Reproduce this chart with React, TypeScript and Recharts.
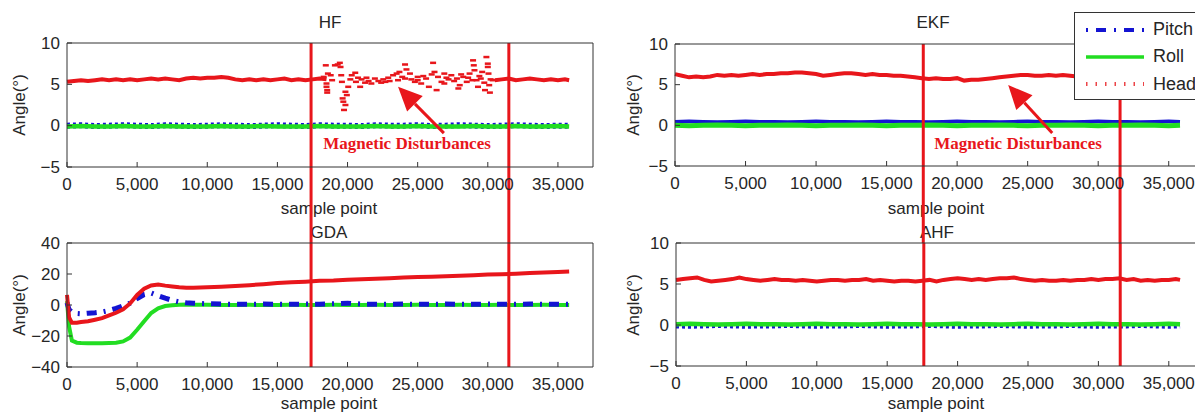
import React from 'react';
import { ComposedChart, Line, Scatter, XAxis, YAxis, ReferenceLine, Legend } from 'recharts';

const FONT = '"Liberation Sans", Arial, sans-serif';
const AXIS = '#333333';
const TXT = '#262626';
const RED = '#e8161b';
const GREEN = '#22dd22';
const BLUE = '#1414d2';

const X_TICKS = [0, 5000, 10000, 15000, 20000, 25000, 30000, 35000];
const X_DOMAIN: [number, number] = [0, 37500];
const Y_TICKS_SMALL = [-5, 0, 5, 10];
const Y_TICKS_GDA = [-40, -20, 0, 20, 40];
const SERIES_NAMES = ['Pitch', 'Roll', 'Head'];

// sample points for the heading traces
const HEAD_X = [
  0, 500, 1000, 1500, 2000, 2500, 3000, 3500, 4000, 4500,
  5000, 5500, 6000, 6500, 7000, 7500, 8000, 8500, 9000, 9500,
  10000, 10500, 11000, 11500, 12000, 12500, 13000, 13500, 14000, 14500,
  15000, 15500, 16000, 16500, 17000, 17500, 18000, 18500, 19000, 19500,
  20000, 20500, 21000, 21500, 22000, 22500, 23000, 23500, 24000, 24500,
  25000, 25500, 26000, 26500, 27000, 27500, 28000, 28500, 29000, 29500,
  30000, 30500, 31000, 31500, 32000, 32500, 33000, 33500, 34000, 34500,
  35000, 35500, 35800,
];

// sample points for pitch / roll
const PR_X = [
  0, 1000, 2000, 3000, 4000, 5000, 6000, 7000, 8000, 9000,
  10000, 11000, 12000, 13000, 14000, 15000, 16000, 17000, 18000, 19000,
  20000, 21000, 22000, 23000, 24000, 25000, 26000, 27000, 28000, 29000,
  30000, 31000, 32000, 33000, 34000, 35000, 35800,
];

const GDA_X = [
  0, 150, 350, 700, 1000, 1500, 2000, 2500, 3000, 3500,
  4000, 4500, 5000, 5500, 6000, 6500, 7000, 7500, 8000, 8500,
  9000, 10000, 11000, 12000, 13000, 14000, 15000, 16000, 17000, 18000,
  19000, 20000, 21000, 22000, 23000, 24000, 25000, 26000, 27000, 28000,
  29000, 30000, 31000, 32000, 33000, 34000, 35000, 35800,
];

const HF_HEAD = [
  5.3, 5.4, 5.5, 5.4, 5.5, 5.6, 5.5, 5.6, 5.5, 5.6,
  5.5, 5.6, 5.7, 5.6, 5.7, 5.6, 5.5, 5.7, 5.8, 5.7,
  5.8, 5.8, 5.9, 5.8, 5.6, 5.5, 5.6, 5.5, 5.6, 5.5,
  5.6, 5.7, 5.5, 5.6, 5.5, 5.6, 5.7, 5.6, null, null,
  null, null, null, null, null, null, null, null, null, null,
  null, null, null, null, null, null, null, null, null, null,
  null, 5.5, 5.6, 5.7, 5.5, 5.6, 5.7, 5.6, 5.5, 5.6,
  5.5, 5.6, 5.5,
];
const HF_PITCH = [
  0.0, 0.05, -0.05, 0.0, 0.05, 0.0, -0.05, 0.05, 0.0, -0.05,
  0.0, 0.05, 0.0, -0.05, 0.0, 0.05, 0.0, -0.05, 0.05, 0.0,
  0.0, -0.05, 0.05, 0.0, 0.0, 0.05, -0.05, 0.0, 0.05, 0.0,
  -0.05, 0.0, 0.05, 0.0, -0.05, 0.0, 0.0,
];
const HF_ROLL = [
  -0.1, -0.05, -0.1, -0.1, -0.05, -0.1, -0.1, -0.05, -0.1, -0.1,
  -0.1, -0.05, -0.1, -0.1, -0.05, -0.1, -0.1, -0.1, -0.05, -0.1,
  -0.1, -0.1, -0.05, -0.1, -0.1, -0.05, -0.1, -0.1, -0.1, -0.05,
  -0.1, -0.1, -0.05, -0.1, -0.1, -0.05, -0.1,
];
// heading samples scattered during the magnetic disturbance (HF)
const HF_DIST_X = [
  18300, 18450, 18500, 18500, 18550, 18550, 18600, 18800, 18900, 19100,
  19300, 19450, 19500, 19550, 19600, 19650, 19700, 19750, 19850, 19850,
  19950, 20050, 20200, 20300, 20550, 20600, 20750, 20900, 21000, 21250,
  21350, 21500, 21700, 21950, 22200, 22400, 22550, 22700, 22900, 23000,
  23250, 23500, 23600, 23700, 23900, 24100, 24100, 24200, 24450, 24550,
  24800, 25000, 25000, 25250, 25400, 25600, 25800, 26000, 26100, 26200,
  26350, 26450, 26700, 26900, 26900, 27050, 27200, 27400, 27600, 27800,
  27900, 28000, 28100, 28250, 28500, 28600, 28700, 28900, 28950, 29000,
  29050, 29200, 29300, 29400, 29500, 29600, 29750, 29800, 29900, 30000,
  30000, 30050, 30100, 30150, 30200, 30350,
];
const HF_DIST_Y = [
  5.9, 7.3, 5.1, 4.7, 4.3, 4.0, 6.3, 6.1, 5.5, 7.3,
  7.4, 7.6, 7.1, 6.1, 5.3, 3.3, 2.9, 1.9, 2.5, 4.1,
  3.7, 4.7, 5.6, 6.1, 6.4, 5.3, 5.8, 4.7, 5.6, 5.2,
  5.8, 5.4, 5.1, 5.7, 5.4, 5.2, 5.6, 5.3, 5.8, 5.4,
  6.1, 6.3, 5.5, 6.5, 5.9, 7.4, 5.7, 6.8, 6.3, 5.6,
  5.3, 5.9, 5.5, 5.1, 6.0, 5.7, 4.7, 6.2, 7.6, 6.5,
  4.3, 5.9, 5.3, 6.3, 5.1, 5.8, 5.6, 6.1, 5.4, 5.7,
  4.5, 4.9, 6.2, 5.9, 5.3, 5.8, 6.3, 5.5, 7.9, 7.3,
  6.7, 5.5, 4.7, 6.0, 5.7, 6.5, 5.2, 4.3, 8.3, 7.5,
  7.1, 6.3, 4.9, 4.0, 5.6, 5.5,
];

const EKF_HEAD = [
  6.3, 6.1, 5.9, 6.0, 5.9, 6.0, 6.2, 6.1, 6.2, 6.1,
  6.2, 6.3, 6.2, 6.3, 6.3, 6.4, 6.4, 6.5, 6.5, 6.4,
  6.3, 6.1, 6.2, 6.3, 6.4, 6.4, 6.3, 6.2, 6.3, 6.2,
  6.2, 6.1, 6.1, 6.0, 5.9, 5.8, 5.7, 5.8, 5.7, 5.7,
  5.8, 5.5, 5.6, 5.6, 5.7, 5.8, 5.9, 6.0, 6.1, 6.2,
  6.2, 6.1, 6.1, 6.2, 6.1, 6.2, 6.1, 6.0, 6.1, 6.2,
  6.1, 6.0, 6.1, 6.0, 6.1, 6.2, 6.1, 6.0, 6.1, 6.1,
  6.0, 6.1, 6.0,
];
const EKF_PITCH = [
  0.45, 0.5, 0.45, 0.4, 0.45, 0.5, 0.45, 0.45, 0.4, 0.45,
  0.5, 0.45, 0.45, 0.4, 0.45, 0.5, 0.45, 0.45, 0.4, 0.45,
  0.5, 0.45, 0.45, 0.4, 0.45, 0.5, 0.45, 0.45, 0.4, 0.45,
  0.5, 0.45, 0.45, 0.4, 0.45, 0.5, 0.45,
];
const EKF_ROLL = [
  0.0, -0.05, 0.0, 0.05, 0.0, -0.05, 0.0, 0.0, 0.05, 0.0,
  -0.05, 0.0, 0.0, 0.05, 0.0, -0.05, 0.0, 0.0, 0.05, 0.0,
  -0.05, 0.0, 0.0, 0.05, 0.0, -0.05, 0.0, 0.0, 0.05, 0.0,
  -0.05, 0.0, 0.0, 0.05, 0.0, -0.05, 0.0,
];

const GDA_HEAD = [
  6.5, -8, -11.5, -11.5, -11, -10.5, -9.5, -8.5, -6.7, -5.0,
  -2.8, 1.0, 6.5, 10.5, 12.6, 13.2, 12.5, 12, 11.5, 11.2,
  11.2, 11.4, 11.8, 12.3, 12.8, 13.4, 14.2, 14.6, 15.0, 15.6,
  15.8, 16.3, 16.6, 17.0, 17.3, 17.7, 18.0, 18.3, 18.6, 18.9,
  19.2, 19.6, 19.9, 20.2, 20.6, 20.9, 21.3, 21.6,
];
const GDA_PITCH = [
  1.5, -3, -4.5, -5.5, -5.7, -5.3, -5, -4.5, -3.5, -2.2,
  -0.5, 1.2, 4.2, 6.8, 7.8, 6.0, 4.4, 3.0, 2.0, 1.4,
  1.1, 0.8, 0.6, 0.5, 0.5, 0.6, 0.5, 0.5, 0.6, 0.5,
  0.8, 1.2, 0.6, 0.5, 0.5, 0.6, 0.5, 0.5, 0.6, 0.5,
  0.5, 0.6, 0.5, 0.5, 0.6, 0.5, 0.5, 0.5,
];
const GDA_ROLL = [
  2.5, -14, -23, -24.3, -24.5, -24.6, -24.6, -24.6, -24.5, -24.3,
  -23.5, -21, -16, -10.5, -5.2, -2.2, -0.7, -0.2, 0.2, 0.3,
  0.2, 0.1, 0, 0, 0.1, 0, 0, 0.1, 0, 0,
  0.1, 0, 0, 0.1, 0, 0, 0.1, 0, 0, 0.1,
  0, 0, 0.1, 0, 0, 0.1, 0, 0,
];

const AHF_HEAD = [
  5.5, 5.6, 5.7, 5.8, 5.5, 5.3, 5.4, 5.5, 5.6, 5.8,
  5.6, 5.5, 5.4, 5.5, 5.6, 5.5, 5.5, 5.4, 5.5, 5.4,
  5.3, 5.4, 5.5, 5.5, 5.4, 5.5, 5.5, 5.6, 5.4, 5.5,
  5.4, 5.3, 5.4, 5.4, 5.3, 5.4, 5.5, 5.3, 5.5, 5.6,
  5.7, 5.6, 5.5, 5.6, 5.5, 5.6, 5.7, 5.7, 5.8, 5.6,
  5.5, 5.4, 5.5, 5.4, 5.4, 5.5, 5.4, 5.5, 5.5, 5.6,
  5.5, 5.6, 5.6, 5.7, 5.5, 5.6, 5.4, 5.5, 5.4, 5.5,
  5.5, 5.6, 5.5,
];
const AHF_PITCH = [
  -0.2, -0.25, -0.2, -0.15, -0.2, -0.25, -0.2, -0.2, -0.15, -0.2,
  -0.25, -0.2, -0.2, -0.15, -0.2, -0.25, -0.2, -0.2, -0.15, -0.2,
  -0.25, -0.2, -0.2, -0.15, -0.2, -0.25, -0.2, -0.2, -0.15, -0.2,
  -0.25, -0.2, -0.2, -0.15, -0.2, -0.25, -0.2,
];
const AHF_ROLL = [
  0.1, 0.15, 0.1, 0.05, 0.1, 0.15, 0.1, 0.1, 0.05, 0.1,
  0.15, 0.1, 0.1, 0.05, 0.1, 0.15, 0.1, 0.1, 0.05, 0.1,
  0.15, 0.1, 0.1, 0.05, 0.1, 0.15, 0.1, 0.1, 0.05, 0.1,
  0.15, 0.1, 0.1, 0.05, 0.1, 0.15, 0.1,
];

// disturbance markers (sample index) per column
const DIST_LEFT = [17400, 31500];
const DIST_RIGHT = [17600, 31550];
// arrow annotations, [tailX, tailY, headX, headY] in data units
const ARROW_HF = [26870, -0.9, 23600, 4.7];
const ARROW_EKF = [26740, -0.95, 23620, 4.96];

// layout
const PAD_L = 60;
const PAD_R = 20;
const PAD_T = 40;
const PAD_B = 40;
const TICK = 5;

const BOX = {
  hf: { x: 67, y: 43, w: 526, h: 124 },
  ekf: { x: 675, y: 44, w: 529, h: 122 },
  gda: { x: 67, y: 243, w: 526, h: 124 },
  ahf: { x: 676, y: 243, w: 528, h: 123 },
};

const tickStyle: React.CSSProperties = { fontFamily: FONT, fontSize: 17, fill: TXT };

const fmtX = (v: number) => v.toLocaleString('en-US');
const fmtY = (v: number) => (v < 0 ? '\u2212' + Math.abs(v) : String(v));

const rows = (xs: number[], ys: (number | null)[]) => xs.map((x, i) => ({ x, v: ys[i] }));
const points = (xs: number[], ys: number[]) => xs.map((x, i) => ({ x, y: ys[i] }));

type SeriesDef = {
  name: string;
  xs: number[];
  ys: (number | null)[];
  color: string;
  width: number;
  dash?: string;
};

type Box = { x: number; y: number; w: number; h: number };

const DashMark = (p: any) => (
  <rect x={p.cx - 3} y={p.cy - 1.25} width={6} height={2.5} fill={RED} />
);

const ArrowShape = (p: any) => {
  const { x1, y1, x2, y2 } = p;
  const dx = x2 - x1;
  const dy = y2 - y1;
  const len = Math.hypot(dx, dy) || 1;
  const ux = dx / len;
  const uy = dy / len;
  const hl = 24;
  const hw = 11;
  const bx = x2 - ux * hl;
  const by = y2 - uy * hl;
  return (
    <g>
      <line x1={x1} y1={y1} x2={bx} y2={by} stroke={RED} strokeWidth={3} />
      <polygon
        points={`${x2},${y2} ${bx - uy * hw},${by + ux * hw} ${bx + uy * hw},${by - ux * hw}`}
        fill={RED}
      />
    </g>
  );
};

function LegendBox() {
  return (
    <div
      style={{
        width: 150,
        height: 88,
        background: '#fff',
        border: `1px solid ${AXIS}`,
        boxSizing: 'border-box',
        paddingTop: 3,
        fontFamily: FONT,
        fontSize: 18,
        color: TXT,
      }}
    >
      {SERIES_NAMES.map((name) => (
        <div key={name} style={{ height: 27.3, display: 'flex', alignItems: 'center' }}>
          <svg width={78} height={20} style={{ flex: 'none' }}>
            {name === 'Pitch' && (
              <line x1={11} x2={69} y1={10} y2={10} stroke={BLUE} strokeWidth={4} strokeDasharray="2 8 10 8" />
            )}
            {name === 'Roll' && <line x1={11} x2={69} y1={10} y2={10} stroke={GREEN} strokeWidth={3.5} />}
            {name === 'Head' && (
              <line x1={11} x2={69} y1={10} y2={10} stroke={RED} strokeWidth={4} strokeDasharray="1.5 8" opacity={0.8} />
            )}
          </svg>
          <span>{name}</span>
        </div>
      ))}
    </div>
  );
}

type PanelProps = {
  box: Box;
  yDomain: [number, number];
  yTicks: number[];
  series: SeriesDef[];
  dist?: { x: number; y: number }[];
  refXs: number[];
  extBottom: number;
  arrow?: number[];
  legendAt?: { left: number; top: number };
};

function Panel({ box, yDomain, yTicks, series, dist, refXs, extBottom, arrow, legendAt }: PanelProps) {
  const W = PAD_L + box.w + PAD_R;
  const H = PAD_T + box.h + PAD_B;
  const pl = PAD_L;
  const pr = PAD_L + box.w;
  const pt = PAD_T;
  const pb = PAD_T + box.h;

  const bottomTick = (p: any) => (
    <g>
      <line x1={p.x} x2={p.x} y1={pb} y2={pb - TICK} stroke={AXIS} />
      <text x={p.x} y={pb + 17} textAnchor="middle" dominantBaseline="central" style={tickStyle}>
        {fmtX(p.payload.value)}
      </text>
    </g>
  );
  const topTick = (p: any) => <line x1={p.x} x2={p.x} y1={pt} y2={pt + TICK} stroke={AXIS} />;
  const leftTick = (p: any) => (
    <g>
      <line x1={pl} x2={pl + TICK} y1={p.y} y2={p.y} stroke={AXIS} />
      <text x={pl - 7} y={p.y} textAnchor="end" dominantBaseline="central" style={tickStyle}>
        {fmtY(p.payload.value)}
      </text>
    </g>
  );
  const rightTick = (p: any) => <line x1={pr - TICK} x2={pr} y1={p.y} y2={p.y} stroke={AXIS} />;

  const vShape = (p: any) => (
    <line
      x1={p.x1}
      x2={p.x2}
      y1={Math.min(p.y1, p.y2)}
      y2={Math.max(p.y1, p.y2) + extBottom}
      stroke={RED}
      strokeWidth={3}
    />
  );

  return (
    <div style={{ position: 'absolute', left: box.x - PAD_L, top: box.y - PAD_T }}>
      <ComposedChart width={W} height={H} margin={{ top: 0, right: 0, bottom: 0, left: 0 }}>
        <XAxis
          type="number"
          dataKey="x"
          domain={X_DOMAIN}
          ticks={X_TICKS}
          interval={0}
          height={PAD_B}
          axisLine={{ stroke: AXIS }}
          tickLine={false}
          tick={bottomTick}
        />
        <XAxis
          xAxisId="t"
          orientation="top"
          type="number"
          dataKey="x"
          domain={X_DOMAIN}
          ticks={X_TICKS}
          interval={0}
          height={PAD_T}
          axisLine={{ stroke: AXIS }}
          tickLine={false}
          tick={topTick}
        />
        <YAxis
          type="number"
          domain={yDomain}
          ticks={yTicks}
          interval={0}
          width={PAD_L}
          axisLine={{ stroke: AXIS }}
          tickLine={false}
          tick={leftTick}
        />
        <YAxis
          yAxisId="r"
          orientation="right"
          type="number"
          domain={yDomain}
          ticks={yTicks}
          interval={0}
          width={PAD_R}
          axisLine={{ stroke: AXIS }}
          tickLine={false}
          tick={rightTick}
        />
        {series.map((s) => (
          <Line
            key={s.name}
            name={s.name}
            data={rows(s.xs, s.ys)}
            dataKey="v"
            type="linear"
            stroke={s.color}
            strokeWidth={s.width}
            strokeDasharray={s.dash}
            dot={false}
            activeDot={false}
            connectNulls={false}
            isAnimationActive={false}
          />
        ))}
        {dist && <Scatter data={dist} dataKey="y" fill={RED} shape={DashMark} isAnimationActive={false} />}
        {arrow && (
          <ReferenceLine
            segment={[
              { x: arrow[0], y: arrow[1] },
              { x: arrow[2], y: arrow[3] },
            ]}
            shape={ArrowShape}
          />
        )}
        {refXs.map((rx) => (
          <ReferenceLine key={rx} x={rx} shape={vShape} />
        ))}
        {legendAt && (
          <Legend
            layout="horizontal"
            verticalAlign="middle"
            align="center"
            content={<LegendBox />}
            wrapperStyle={{ left: legendAt.left, top: legendAt.top, width: 150, height: 88 }}
          />
        )}
      </ComposedChart>
    </div>
  );
}

const labelBase: React.CSSProperties = {
  position: 'absolute',
  transform: 'translate(-50%, -50%)',
  whiteSpace: 'nowrap',
  fontFamily: FONT,
  fontSize: 17,
  color: TXT,
  lineHeight: 1,
};

function Label({ x, y, text, rotate, style }: { x: number; y: number; text: string; rotate?: boolean; style?: React.CSSProperties }) {
  return (
    <div
      style={{
        ...labelBase,
        left: x,
        top: y,
        transform: rotate ? 'translate(-50%, -50%) rotate(-90deg)' : labelBase.transform,
        ...style,
      }}
    >
      {text}
    </div>
  );
}

const noteStyle: React.CSSProperties = {
  fontFamily: '"Liberation Serif", "Times New Roman", serif',
  fontWeight: 'bold',
  fontSize: 17,
  color: RED,
};

export default function App() {
  const pitch = (xs: number[], ys: number[], width: number, dash?: string): SeriesDef => ({
    name: 'Pitch', xs, ys, color: BLUE, width, dash,
  });
  const roll = (xs: number[], ys: number[], width: number): SeriesDef => ({
    name: 'Roll', xs, ys, color: GREEN, width,
  });
  const head = (xs: number[], ys: (number | null)[], width: number): SeriesDef => ({
    name: 'Head', xs, ys, color: RED, width,
  });

  return (
    <div
      style={{
        position: 'absolute',
        left: 0,
        top: 0,
        width: 1195,
        height: 414,
        overflow: 'hidden',
        background: '#fff',
      }}
    >
      <style>{'.recharts-surface{overflow:visible}'}</style>

      <Label x={330} y={22} text="HF" />
      <Label x={933} y={22} text="EKF" />
      <Label x={329} y={232} text="GDA" />
      <Label x={937} y={232} text="AHF" />
      <Label x={329} y={208} text="sample point" />
      <Label x={936} y={208} text="sample point" />
      <Label x={329} y={403} text="sample point" />
      <Label x={936} y={403} text="sample point" />
      <Label x={19} y={105} text="Angle(°)" rotate />
      <Label x={633} y={105} text="Angle(°)" rotate />
      <Label x={19} y={305} text="Angle(°)" rotate />
      <Label x={633} y={305} text="Angle(°)" rotate />
      <Label x={407} y={143} text="Magnetic Disturbances" style={noteStyle} />
      <Label x={1018} y={143} text="Magnetic Disturbances" style={noteStyle} />

      <Panel
        box={BOX.hf}
        yDomain={[-5, 10]}
        yTicks={Y_TICKS_SMALL}
        series={[pitch(PR_X, HF_PITCH, 6, '3 3'), roll(PR_X, HF_ROLL, 4.5), head(HEAD_X, HF_HEAD, 4)]}
        dist={points(HF_DIST_X, HF_DIST_Y)}
        refXs={DIST_LEFT}
        extBottom={BOX.gda.y - (BOX.hf.y + BOX.hf.h)}
        arrow={ARROW_HF}
      />
      <Panel
        box={BOX.ekf}
        yDomain={[-5, 10]}
        yTicks={Y_TICKS_SMALL}
        series={[pitch(PR_X, EKF_PITCH, 3.5), roll(PR_X, EKF_ROLL, 5), head(HEAD_X, EKF_HEAD, 4)]}
        refXs={DIST_RIGHT}
        extBottom={BOX.ahf.y - (BOX.ekf.y + BOX.ekf.h)}
        arrow={ARROW_EKF}
        legendAt={{ left: 1074 - (BOX.ekf.x - PAD_L), top: 12 - (BOX.ekf.y - PAD_T) }}
      />
      <Panel
        box={BOX.gda}
        yDomain={[-40, 40]}
        yTicks={Y_TICKS_GDA}
        series={[roll(GDA_X, GDA_ROLL, 4), pitch(GDA_X, GDA_PITCH, 5, '10 7 2 7'), head(GDA_X, GDA_HEAD, 4)]}
        refXs={DIST_LEFT}
        extBottom={0}
      />
      <Panel
        box={BOX.ahf}
        yDomain={[-5, 10]}
        yTicks={Y_TICKS_SMALL}
        series={[pitch(PR_X, AHF_PITCH, 3.5, '3 3'), roll(PR_X, AHF_ROLL, 4.5), head(HEAD_X, AHF_HEAD, 4)]}
        refXs={DIST_RIGHT}
        extBottom={0}
      />
    </div>
  );
}
